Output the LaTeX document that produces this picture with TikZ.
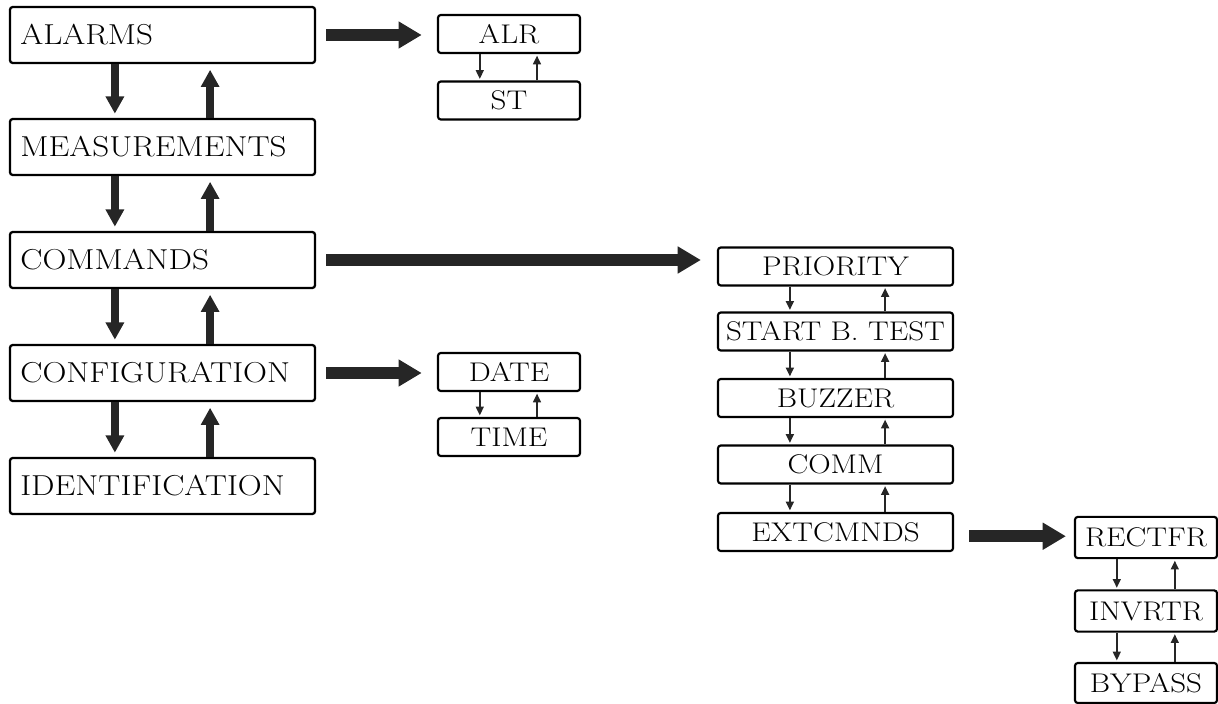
\documentclass[tikz,border=0pt]{standalone}
\usepackage{fontspec}
\setmainfont{Latin Modern Roman}[FakeStretch=1.15]
\usetikzlibrary{arrows.meta}
\tikzset{
	menubox/.style={draw, line width=1.6pt, rounded corners=2pt, minimum height=1.4cm, text width=7.105cm, inner xsep=0.26cm, align=left, font=\fontsize{20.5}{24}\selectfont},
	subbox/.style={draw, line width=1.5pt, rounded corners=2pt, minimum height=0.95cm, inner xsep=1pt, inner ysep=0pt, font=\fontsize{19.2}{22}\selectfont},
	bigarrow/.style={draw=black!85, line width=0.3cm, -{Triangle[length=0.58cm,width=0.64cm]}},
	steparrow/.style={draw=black!85, line width=0.2cm, -{Triangle[length=0.43cm,width=0.44cm]}},
	smallarrow/.style={draw=black!85, line width=1.8pt, -{Triangle[length=0.22cm,width=0.19cm]}},
}
\begin{document}
\begin{tikzpicture}[x=0.025cm, y=-0.025cm]
	\useasboundingbox (0,0) rectangle (1218,704);
	% main menu
	\node[menubox] (alarms) at (162.5,35) {ALARMS};
	\node[menubox] (meas) at (162.5,147) {MEASUREMENTS};
	\node[menubox] (cmds) at (162.5,260) {COMMANDS};
	\node[menubox] (config) at (162.5,373) {CONFIGURATION};
	\node[menubox] (ident) at (162.5,486) {IDENTIFICATION};
	% sub menus
	\node[subbox, minimum width=3.55cm] (alr) at (509,34) {ALR};
	\node[subbox, minimum width=3.55cm] (st) at (509,100.5) {ST};
	\node[subbox, minimum width=3.55cm] (date) at (509,372) {DATE};
	\node[subbox, minimum width=3.55cm] (time) at (509,437) {TIME};
	\node[subbox, minimum width=5.875cm] (prio) at (835.5,266.5) {PRIORITY};
	\node[subbox, minimum width=5.875cm] (btest) at (835.5,331.5) {START B. TEST};
	\node[subbox, minimum width=5.875cm] (buzz) at (835.5,398) {BUZZER};
	\node[subbox, minimum width=5.875cm] (comm) at (835.5,464.5) {COMM};
	\node[subbox, minimum width=5.875cm] (extc) at (835.5,532) {EXTCMNDS};
	\node[subbox, minimum width=3.55cm, minimum height=1.03cm] (rect) at (1146,537.5) {RECTFR};
	\node[subbox, minimum width=3.55cm, minimum height=1.03cm] (inv) at (1146,611) {INVRTR};
	\node[subbox, minimum width=3.55cm, minimum height=1.0cm] (byp) at (1146,683) {BYPASS};
	% up and down
	\foreach \a/\b in {alarms/meas, meas/cmds, cmds/config, config/ident} {
		\draw[steparrow, shorten >=3pt] ([xshift=-1.19cm]\a.south) -- ([xshift=-1.19cm]\b.north);
		\draw[steparrow, shorten >=4pt] ([xshift=1.19cm]\b.north) -- ([xshift=1.19cm]\a.south);
	}
	\foreach \a/\b/\d/\e in {alr/st/0.73cm/0.7cm, date/time/0.73cm/0.7cm, prio/btest/1.14cm/1.24cm, btest/buzz/1.14cm/1.24cm, buzz/comm/1.14cm/1.24cm, comm/extc/1.14cm/1.24cm, rect/inv/0.73cm/0.72cm, inv/byp/0.73cm/0.72cm} {
		\draw[smallarrow, shorten >=1pt] ([xshift=-\d]\a.south) -- ([xshift=-\d]\b.north);
		\draw[smallarrow, shorten >=1pt] ([xshift=\e]\b.north) -- ([xshift=\e]\a.south);
	}
	% into sub menus
	\draw[bigarrow, shorten <=0.25cm, shorten >=0.38cm] (alarms.east) -- (alarms.east -| alr.west);
	\draw[bigarrow, shorten <=0.25cm, shorten >=0.4cm] (cmds.east) -- (cmds.east -| prio.west);
	\draw[bigarrow, shorten <=0.25cm, shorten >=0.38cm] (config.east) -- (config.east -| date.west);
	\draw[bigarrow, shorten <=0.38cm, shorten >=0.2cm] ([yshift=-3pt]extc.east) -- ([yshift=-3pt]extc.east -| rect.west);
\end{tikzpicture}
\end{document}
